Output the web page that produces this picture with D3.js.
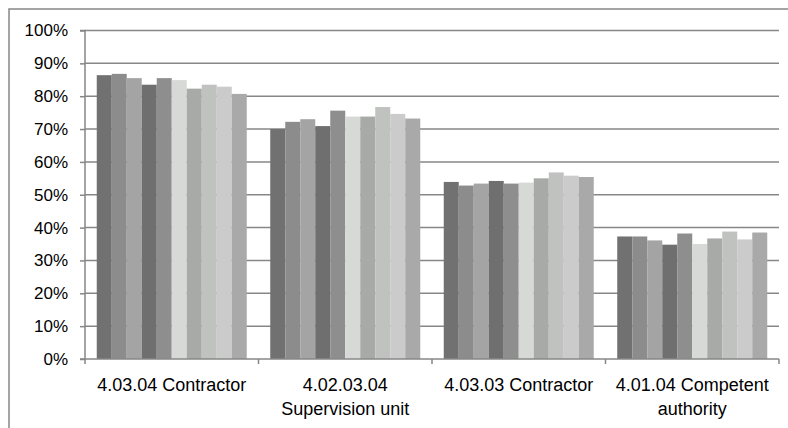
<!DOCTYPE html>
<html>
<head>
<meta charset="utf-8">
<script src="https://cdn.jsdelivr.net/npm/d3@7"></script>
<style>
  html, body { margin: 0; padding: 0; background: #fff; }
  svg { display: block; }
  text { font-family: "Liberation Sans", Arial, sans-serif; fill: #000; }
</style>
</head>
<body>
<svg id="chart" width="788" height="428"></svg>
<script>
// ---- data ----
const categories = ["4.03.04 Contractor", "4.02.03.04 Supervision unit", "4.03.03 Contractor", "4.01.04 Competent authority"];
const categoryLines = [["4.03.04 Contractor"], ["4.02.03.04", "Supervision unit"], ["4.03.03 Contractor"], ["4.01.04 Competent", "authority"]];
const seriesNames = ["S1", "S2", "S3", "S4", "S5", "S6", "S7", "S8", "S9", "S10"];
const series1  = [0.864, 0.700, 0.539, 0.373];
const series2  = [0.868, 0.722, 0.528, 0.373];
const series3  = [0.855, 0.730, 0.534, 0.361];
const series4  = [0.835, 0.709, 0.542, 0.348];
const series5  = [0.855, 0.756, 0.534, 0.382];
const series6  = [0.849, 0.738, 0.537, 0.350];
const series7  = [0.823, 0.738, 0.550, 0.367];
const series8  = [0.835, 0.767, 0.568, 0.388];
const series9  = [0.829, 0.746, 0.558, 0.364];
const series10 = [0.807, 0.732, 0.554, 0.385];
const seriesValues = [series1, series2, series3, series4, series5, series6, series7, series8, series9, series10];
const seriesColors = ["#717171", "#8c8c8c", "#a4a4a4", "#6f6f6f", "#8e8e8e", "#d7d9d7", "#a8aaa8", "#c0c2c0", "#cbcbcb", "#a9a9a9"];
const yTicks = [0, 0.1, 0.2, 0.3, 0.4, 0.5, 0.6, 0.7, 0.8, 0.9, 1.0];

// ---- layout ----
const svg = d3.select("#chart");
const mLeft = 85, mRight = 779, mTop = 30.5, mBottom = 359;
const axisColor = "#878787";

// outer frame
svg.append("rect").attr("x", 9).attr("y", 9).attr("width", 800).attr("height", 440)
  .attr("fill", "none").attr("stroke", axisColor).attr("stroke-width", 1.5);

const x0 = d3.scaleBand().domain(categories).range([mLeft, mRight]).padding(0);
const x1 = d3.scaleBand().domain(seriesNames)
  .range([x0.bandwidth() * 0.0677, x0.bandwidth() * (1 - 0.0677)]).padding(0);
const y = d3.scaleLinear().domain([0, 1]).range([mBottom, mTop]);

// gridlines
svg.append("g").selectAll("line").data(yTicks.filter(d => d > 0)).join("line")
  .attr("x1", mLeft).attr("x2", mRight)
  .attr("y1", d => y(d)).attr("y2", d => y(d))
  .attr("stroke", axisColor).attr("stroke-width", 1.5);

// bars
const groups = svg.append("g").selectAll("g").data(categories).join("g")
  .attr("transform", d => `translate(${x0(d)},0)`);
groups.selectAll("rect")
  .data((c, ci) => seriesNames.map((s, si) => ({ s, si, v: seriesValues[si][ci] })))
  .join("rect")
  .attr("x", d => x1(d.s))
  .attr("y", d => y(d.v))
  .attr("width", x1.bandwidth())
  .attr("height", d => y(0) - y(d.v))
  .attr("fill", d => seriesColors[d.si]);

// y axis
const yAxis = d3.axisLeft(y).tickValues(yTicks).tickFormat(d3.format(".0%")).tickSize(5).tickPadding(12);
const gy = svg.append("g").attr("transform", `translate(${mLeft},0)`).call(yAxis);
gy.select(".domain").attr("stroke", axisColor).attr("stroke-width", 1.5).attr("d", `M-5,${mBottom}H0V${mTop}H-5`);
gy.selectAll(".tick line").attr("stroke", axisColor).attr("stroke-width", 1.5);
gy.selectAll(".tick text").attr("font-size", 17).attr("font-family", "Liberation Sans, Arial, sans-serif").attr("fill", "#000");

// x axis line + ticks at band boundaries
const boundaries = categories.map(c => x0(c)).concat([mRight]);
svg.append("line").attr("x1", mLeft).attr("x2", mRight).attr("y1", mBottom).attr("y2", mBottom)
  .attr("stroke", axisColor).attr("stroke-width", 1.5);
svg.append("g").selectAll("line").data(boundaries).join("line")
  .attr("x1", d => d).attr("x2", d => d).attr("y1", mBottom).attr("y2", mBottom + 5)
  .attr("stroke", axisColor).attr("stroke-width", 1.5);

// x labels
const xl = svg.append("g").selectAll("text").data(categories).join("text")
  .attr("x", d => x0(d) + x0.bandwidth() / 2)
  .attr("y", 391)
  .attr("text-anchor", "middle")
  .attr("font-size", 18);
xl.selectAll("tspan").data((d, i) => categoryLines[i]).join("tspan")
  .attr("x", function() { return d3.select(this.parentNode).attr("x"); })
  .attr("dy", (d, i) => i === 0 ? 0 : 24)
  .text(d => d);
</script>
</body>
</html>
